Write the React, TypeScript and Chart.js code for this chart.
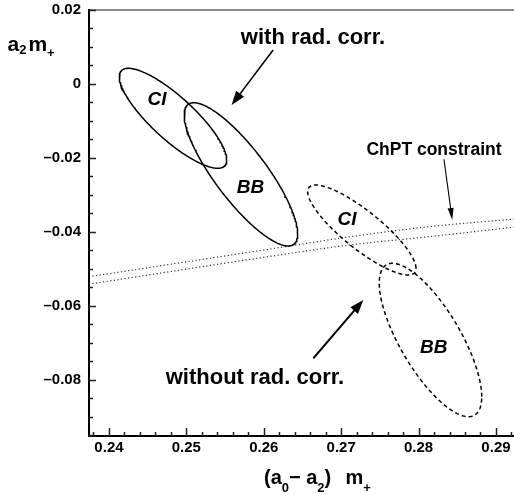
import React, { useEffect, useRef } from "react";
import { Chart, registerables } from "chart.js";

Chart.register(...registerables);

const FONT = "'Liberation Sans', Arial, Helvetica, sans-serif";

// ---- axis ranges / ticks ----
const xRange = [0.23742, 0.29233];
const yRange = [-0.09514, 0.02];
const xMajorStep = 0.01;
const xMinorStep = 0.002;
const yMajorStep = 0.02;
const yMinorStep = 0.005;

// ---- confidence ellipses (center, half extents, correlation) ----
const ellipseNames = ["CI with rad. corr.", "BB with rad. corr.", "CI without rad. corr.", "BB without rad. corr."];
const ellipseCenterX = [0.24827, 0.25705, 0.27267, 0.28154];
const ellipseCenterY = [-0.00927, -0.02442, -0.03946, -0.06919];
const ellipseHalfX = [0.00694, 0.00733, 0.0070, 0.00662];
const ellipseHalfY = [0.01351, 0.01936, 0.01216, 0.02073];
const ellipseCorr = [-0.83, -0.83, -0.85, -0.74];
const ellipseDashed = [false, false, true, true];

// ---- ChPT constraint band ----
const chptX = [0.2374, 0.2627, 0.2711, 0.2812, 0.2923];
const chptUpperY = [-0.0521, -0.0440, -0.0413, -0.0386, -0.0365];
const chptLowerY = [-0.0541, -0.0460, -0.0435, -0.0413, -0.0387];

// ---- labels (data coords: centre x, baseline y) ----
const labelTexts = ["with rad. corr.", "without rad. corr.", "ChPT constraint", "CI", "BB", "CI", "BB"];
const labelX = [0.26636, 0.25886, 0.28199, 0.2462, 0.25828, 0.27075, 0.28195];
const labelY = [0.01081, -0.08108, -0.01919, -0.00568, -0.02946, -0.03811, -0.07262];

// ---- arrows (data coords, tail -> tip) ----
const arrowTailX = [0.26121, 0.28328, 0.2664];
const arrowTailY = [0.00919, -0.02035, -0.07414];
const arrowTipX = [0.25585, 0.28435, 0.27286];
const arrowTipY = [-0.00568, -0.03676, -0.05838];

function ellipsePoints(i: number) {
  const pts: { x: number; y: number }[] = [];
  const n = 240;
  const cx = ellipseCenterX[i];
  const cy = ellipseCenterY[i];
  const hx = ellipseHalfX[i];
  const hy = ellipseHalfY[i];
  const r = ellipseCorr[i];
  const s = Math.sqrt(1 - r * r);
  for (let k = 0; k <= n; k++) {
    const t = (2 * Math.PI * k) / n;
    pts.push({ x: cx + hx * Math.cos(t), y: cy + hy * (r * Math.cos(t) + s * Math.sin(t)) });
  }
  return pts;
}

function fmtTick(v: number) {
  if (Math.abs(v) < 1e-9) return "0";
  return (v < 0 ? "\u2013" : "") + Math.abs(v).toFixed(2);
}

type Part = { t: string; size: number; dy: number; dx?: number };

function drawRich(ctx: CanvasRenderingContext2D, parts: Part[], x: number, baseline: number) {
  let cx = x;
  ctx.textAlign = "left";
  ctx.textBaseline = "alphabetic";
  for (const p of parts) {
    ctx.font = `bold ${p.size}px ${FONT}`;
    cx += p.dx || 0;
    ctx.fillText(p.t, cx, baseline + p.dy);
    cx += ctx.measureText(p.t).width;
  }
}

function drawArrow(
  ctx: CanvasRenderingContext2D,
  x1: number,
  y1: number,
  x2: number,
  y2: number,
  headLen: number,
  headHalf: number,
  lw: number
) {
  const dx = x2 - x1;
  const dy = y2 - y1;
  const L = Math.hypot(dx, dy);
  const ux = dx / L;
  const uy = dy / L;
  const bx = x2 - ux * headLen;
  const by = y2 - uy * headLen;
  ctx.lineWidth = lw;
  ctx.beginPath();
  ctx.moveTo(x1, y1);
  ctx.lineTo(bx + ux * 1, by + uy * 1);
  ctx.stroke();
  ctx.beginPath();
  ctx.moveTo(x2, y2);
  ctx.lineTo(bx - uy * headHalf, by + ux * headHalf);
  ctx.lineTo(bx + uy * headHalf, by - ux * headHalf);
  ctx.closePath();
  ctx.fill();
}

const decorPlugin = {
  id: "decor",
  afterDatasetsDraw(chart: any) {
    const { ctx, chartArea: a, scales } = chart;
    const xs = scales.x;
    const ys = scales.y;
    ctx.save();

    // frame
    ctx.lineCap = "butt";
    ctx.strokeStyle = "#8a8a8a";
    ctx.lineWidth = 2;
    ctx.beginPath();
    ctx.moveTo(a.left, a.top);
    ctx.lineTo(a.right, a.top);
    ctx.stroke();
    ctx.strokeStyle = "#000";
    ctx.beginPath();
    ctx.moveTo(a.left, a.top - 1);
    ctx.lineTo(a.left, a.bottom);
    ctx.lineTo(a.right, a.bottom);
    ctx.stroke();

    // ticks (inside)
    ctx.lineWidth = 1.5;
    ctx.strokeStyle = "#222";
    const x0 = Math.ceil(xRange[0] / xMinorStep) * xMinorStep;
    for (let v = x0; v <= xRange[1] + 1e-9; v += xMinorStep) {
      const isMajor = Math.abs(v / xMajorStep - Math.round(v / xMajorStep)) < 1e-6;
      const px = Math.round(xs.getPixelForValue(v)) + 0.5;
      ctx.beginPath();
      ctx.moveTo(px, a.bottom);
      ctx.lineTo(px, a.bottom - (isMajor ? 8 : 4));
      ctx.stroke();
    }
    const y0 = Math.ceil(yRange[0] / yMinorStep) * yMinorStep;
    for (let v = y0; v <= yRange[1] + 1e-9; v += yMinorStep) {
      const isMajor = Math.abs(v / yMajorStep - Math.round(v / yMajorStep)) < 1e-6;
      const py = Math.round(ys.getPixelForValue(v)) + 0.5;
      ctx.beginPath();
      ctx.moveTo(a.left, py);
      ctx.lineTo(a.left + (isMajor ? 7 : 4), py);
      ctx.stroke();
    }

    // labels
    ctx.fillStyle = "#000";
    ctx.textAlign = "center";
    ctx.textBaseline = "alphabetic";
    for (let i = 0; i < labelTexts.length; i++) {
      if (i < 2) ctx.font = `bold 22px ${FONT}`;
      else if (i === 2) ctx.font = `bold 17.5px ${FONT}`;
      else ctx.font = `italic bold 19px ${FONT}`;
      ctx.fillText(labelTexts[i], xs.getPixelForValue(labelX[i]), ys.getPixelForValue(labelY[i]));
    }

    // arrows
    ctx.strokeStyle = "#000";
    const heads = [
      [14, 5, 1.6],
      [12, 3, 1.1],
      [14, 5, 2],
    ];
    for (let i = 0; i < arrowTailX.length; i++) {
      drawArrow(
        ctx,
        xs.getPixelForValue(arrowTailX[i]),
        ys.getPixelForValue(arrowTailY[i]),
        xs.getPixelForValue(arrowTipX[i]),
        ys.getPixelForValue(arrowTipY[i]),
        heads[i][0],
        heads[i][1],
        heads[i][2]
      );
    }

    // axis titles
    drawRich(
      ctx,
      [
        { t: "(", size: 20, dy: 0 },
        { t: "a", size: 20, dy: 0 },
        { t: "0", size: 13, dy: 8.4 },
        { t: "\u2212", size: 20, dy: 0 },
        { t: " a", size: 20, dy: 0 },
        { t: "2", size: 13, dy: 8.4 },
        { t: ")", size: 20, dy: 0 },
        { t: "  m", size: 20, dy: 0, dx: 3 },
        { t: "+", size: 13, dy: 8 },
      ],
      264,
      483.5
    );
    drawRich(
      ctx,
      [
        { t: "a", size: 21, dy: 0 },
        { t: "2", size: 13, dy: 3.5 },
        { t: "m", size: 21, dy: 0, dx: 2 },
        { t: "+", size: 13, dy: 6.5 },
      ],
      7.5,
      50.7
    );

    ctx.restore();
  },
};

export default function App() {
  const ref = useRef<HTMLCanvasElement>(null);

  useEffect(() => {
    const canvas = ref.current;
    if (!canvas) return;
    const datasets: any[] = [];
    for (let i = 0; i < ellipseCenterX.length; i++) {
      datasets.push({
        label: ellipseNames[i],
        data: ellipsePoints(i),
        borderColor: "#000",
        borderWidth: 1.5,
        borderDash: ellipseDashed[i] ? [4, 3] : [],
        pointRadius: 0,
        showLine: true,
        fill: false,
        tension: 0,
      });
    }
    const chptStyle = {
      borderColor: "#333",
      borderWidth: 1.2,
      borderDash: [1.2, 2.4],
      pointRadius: 0,
      showLine: true,
      fill: false,
      cubicInterpolationMode: "monotone",
    };
    datasets.push({
      label: "ChPT upper",
      data: chptX.map((x, k) => ({ x, y: chptUpperY[k] })),
      ...chptStyle,
    });
    datasets.push({
      label: "ChPT lower",
      data: chptX.map((x, k) => ({ x, y: chptLowerY[k] })),
      ...chptStyle,
    });

    const tickFont = { family: FONT, size: 15, weight: "bold" as const };

    const chart = new Chart(canvas, {
      type: "scatter",
      data: { datasets },
      options: {
        responsive: false,
        animation: false,
        devicePixelRatio: 1,
        layout: { padding: { top: 10, left: 0, right: 0, bottom: 0 } },
        plugins: { legend: { display: false }, tooltip: { enabled: false } },
        scales: {
          x: {
            type: "linear",
            min: xRange[0],
            max: xRange[1],
            grid: { display: false, drawTicks: false },
            border: { display: false },
            ticks: {
              stepSize: xMajorStep,
              includeBounds: false,
              autoSkip: false,
              maxRotation: 0,
              padding: 3,
              color: "#000",
              font: tickFont,
              callback: (v: any) => fmtTick(Number(v)),
            },
            afterFit: (s: any) => {
              s.height = 59;
              s.paddingLeft = 0;
              s.paddingRight = 0;
            },
          },
          y: {
            type: "linear",
            min: yRange[0],
            max: yRange[1],
            grid: { display: false, drawTicks: false },
            border: { display: false },
            ticks: {
              stepSize: yMajorStep,
              includeBounds: false,
              autoSkip: false,
              padding: 8,
              color: "#000",
              font: tickFont,
              callback: (v: any) => fmtTick(Number(v)),
            },
            afterFit: (s: any) => {
              s.width = 89;
              s.paddingTop = 0;
              s.paddingBottom = 0;
            },
          },
        },
      } as any,
      plugins: [decorPlugin],
    });
    return () => chart.destroy();
  }, []);

  return (
    <div style={{ position: "fixed", left: 0, top: 0, width: 514, height: 495, background: "#fff" }}>
      <canvas ref={ref} width={514} height={495} style={{ display: "block", width: 514, height: 495 }} />
    </div>
  );
}
